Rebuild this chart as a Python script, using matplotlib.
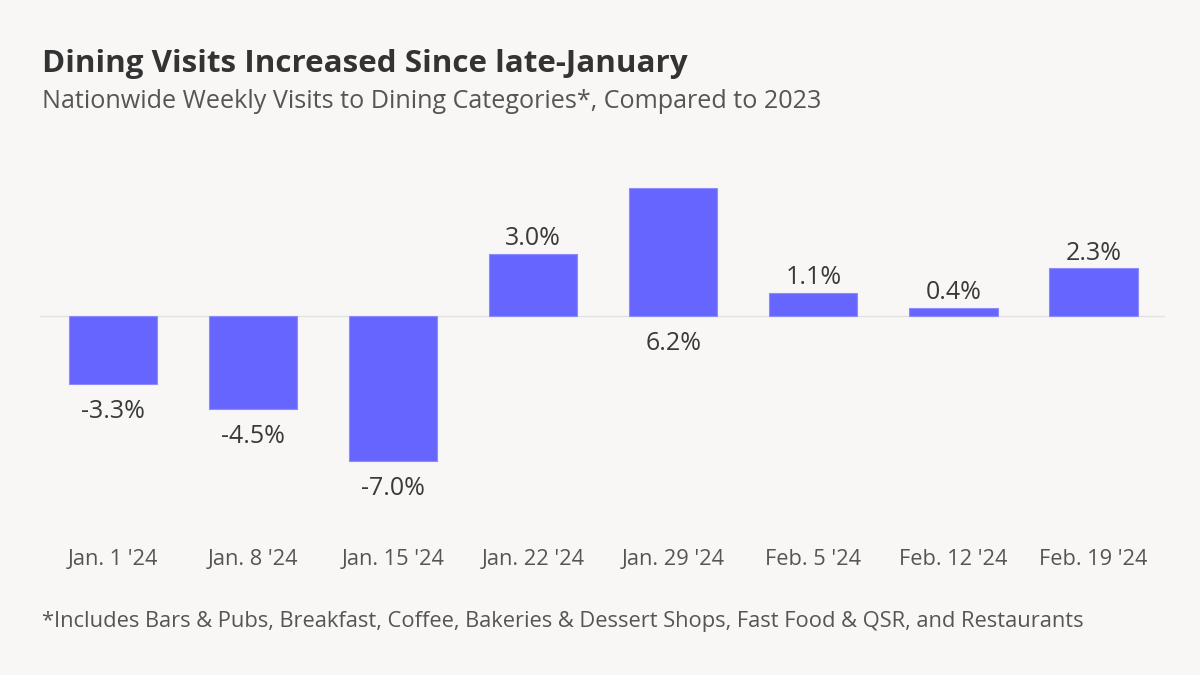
import matplotlib.pyplot as plt

weeks = ["Jan. 1 '24", "Jan. 8 '24", "Jan. 15 '24", "Jan. 22 '24",
         "Jan. 29 '24", "Feb. 5 '24", "Feb. 12 '24", "Feb. 19 '24"]
values = [-3.3, -4.5, -7.0, 3.0, 6.2, 1.1, 0.4, 2.3]
labels = ["-3.3%", "-4.5%", "-7.0%", "3.0%", "6.2%", "1.1%", "0.4%", "2.3%"]

bg = '#f8f7f6'
plt.rcParams['font.family'] = ['Open Sans', 'DejaVu Sans']

fig = plt.figure(figsize=(12, 6.75), dpi=100, facecolor=bg)
ax = fig.add_axes([40 / 1200, 1 - 492 / 675, 1125 / 1200, 321 / 675])
ax.set_facecolor(bg)

x = range(len(values))
ax.bar(x, values, width=0.63, color='#6666ff', edgecolor='#8c8cff', linewidth=0.8, zorder=2)
ax.axhline(0, color='#e2e2e2', linewidth=1, zorder=1)

# the 6.2% label sits under the baseline in the original
for i, (v, lab) in enumerate(zip(values, labels)):
    if v > 0 and i != 4:
        ax.annotate(lab, (i, v), xytext=(0, 11), textcoords='offset points',
                    ha='center', va='center', fontsize=18, color='#3a3a3a')
    else:
        y = min(v, 0)
        ax.annotate(lab, (i, y), xytext=(0, -19.5), textcoords='offset points',
                    ha='center', va='center', fontsize=18, color='#3a3a3a')

ax.set_xlim(-0.52, 7.51)
ax.set_ylim(-8.5, 7)
ax.set_xticks(list(x))
ax.set_xticklabels(weeks, fontsize=15.7, color='#555555')
ax.tick_params(axis='x', length=0, pad=41)
ax.set_yticks([])
for s in ax.spines.values():
    s.set_visible(False)

fig.text(42 / 1200, 1 - 64 / 675, "Dining Visits Increased Since late-January",
         fontsize=22.6, fontweight='bold', color='#333333', va='center')
fig.text(42 / 1200, 1 - 101 / 675, "Nationwide Weekly Visits to Dining Categories*, Compared to 2023",
         fontsize=18.1, color='#555555', va='center')
fig.text(42 / 1200, 1 - 621 / 675,
         "*Includes Bars & Pubs, Breakfast, Coffee, Bakeries & Dessert Shops, Fast Food & QSR, and Restaurants",
         fontsize=15.75, color='#555555', va='center')

fig.savefig('out.png', dpi=100, facecolor=bg)
